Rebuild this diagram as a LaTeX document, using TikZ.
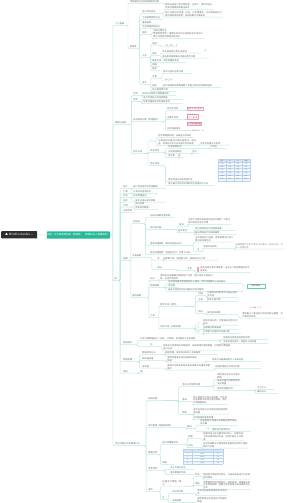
\documentclass[tikz,border=0pt]{standalone}
\usepackage{fontspec}
\newfontfamily\cjk{Noto Sans CJK SC}
\newfontfamily\djv{DejaVu Sans}
\XeTeXlinebreaklocale "zh"
\XeTeXlinebreakskip=0pt plus 0.5pt
\definecolor{ln}{HTML}{BDE9DF}
\definecolor{txt}{HTML}{6A6A6A}
\definecolor{rootc}{HTML}{2E2E2E}
\definecolor{grc}{HTML}{27B899}
\definecolor{pinkc}{HTML}{F2A2B4}
\definecolor{pinkf}{HTML}{FFF4F6}
\definecolor{tbl}{HTML}{B9D4EE}
\definecolor{tbh}{HTML}{D3E5F6}
\definecolor{tbr}{HTML}{EEF5FC}
\tikzset{
 tx/.style={anchor=west,inner xsep=0.2pt,inner ysep=0.45pt,align=left,font=\cjk\fontsize{2.2}{2.75}\selectfont,text=txt},
 cn/.style={draw=ln,line width=0.45pt,rounded corners=1.2pt},
 fm/.style={anchor=west,inner sep=0.3pt,font=\djv\fontsize{2.1}{2.6}\selectfont,text=txt},
 pinkbox/.style={anchor=west,draw=pinkc,line width=0.4pt,fill=pinkf,inner sep=0.5pt,font=\djv\fontsize{2.1}{2.6}\selectfont,text=txt,align=left},
 tealbox/.style={draw=grc!70,line width=0.4pt,fill=white,inner sep=0.4pt,minimum width=18pt,minimum height=4pt,font=\cjk\fontsize{2.2}{2.6}\selectfont,text=txt},
 cellt/.style={inner sep=0pt,font=\cjk\fontsize{1.5}{1.6}\selectfont,text=txt},
 rootn/.style={fill=rootc,text=white,minimum width=36pt,minimum height=7.3pt,inner sep=0pt,rounded corners=0.8pt,font=\cjk\fontsize{3}{3.4}\selectfont},
 grn/.style={fill=grc,text=white,minimum width=63.3pt,minimum height=7.3pt,inner sep=0pt,rounded corners=0.8pt,font=\cjk\fontsize{2.4}{3}\selectfont}
}
\newcommand\nd[7]{\node[tx,text width=#6pt] (#1) at (#4,#5) {#7};\draw[cn] (#2.south east) -- ++(#3,0) |- (#1.south west) -- (#1.south east);}
\begin{document}
\begin{tikzpicture}[x=1pt,y=-1pt]
\useasboundingbox (0,0) rectangle (300,503);
% root and main branch
\node[rootn] (root) at (19.2,234.7) {▲ MindGo Guides —};
\node[grn] (green) at (78.4,235) {说明：中文版使用指南（基础版）（策略开发 \& 数据研究）};
\draw[cn] (root.east) -- (green.west);
% level 1
\node[tx,text width=9pt] (A) at (115,24) {入门基础};
\node[tx,text width=13pt] (B) at (115,123) {数据与指标};
\node[tx,text width=3.5pt] (C) at (114.2,279) {库};
\node[tx,text width=28pt] (D) at (115,444) {常见问题与注意事项汇总};
\foreach \n in {A,B,C,D} \draw[cn] (green.east) -- ++(2.7,0) |- (\n.south west) -- (\n.south east);
% ===== A =====
\nd{A1}{A}{3.2}{130}{1.6}{35}{策略编写与回测框架使用说明}
\nd{A2}{A}{3.2}{129.5}{46.8}{8}{函数库}
\nd{A2a}{A2}{1.4}{142}{12}{18}{账户持仓信息}
\nd{A2a1}{A2a}{3}{165}{6.5}{47}{获取当前账户的可用资金、总资产、持仓市值以及每只股票的数量与成本}
\nd{A2a2}{A2a}{3}{165}{14}{57}{账户对象包含资金、持仓、订单等属性，可在策略运行过程中随时调用查询，返回结果为字典格式}
\nd{A2b}{A2}{1.4}{142}{18}{20}{下单函数使用方法}
\nd{A2c}{A2}{1.4}{142}{22.5}{15}{撤单函数}
\nd{A2d}{A2}{1.4}{142}{27}{23}{历史数据获取接口}
\nd{A2e}{A2}{1.4}{142}{33}{6}{指标}
\nd{A2e1}{A2e}{3}{153}{30.5}{15}{均线计算方法}
\nd{A2e2}{A2e}{3}{153}{35.5}{50}{简单移动平均、指数移动平均与加权移动平均的计算方式及其在策略中的应用}
\nd{A2f}{A2}{1.4}{142}{56}{6}{公式}
\nd{A2f1}{A2f}{2}{152}{43.5}{5}{收益}
\node[fm] (F1) at (165,45.5) {P1 / P0 − 1};
\draw[cn] (A2f1.south east) -- ++(3,0) |- (F1.south west) -- (F1.south east);
\nd{A2f2}{A2f}{2}{152}{54}{6}{波动}
\nd{A2f2a}{A2f2}{2}{162}{51.5}{38}{年化波动率计算方法说明}
\node[fm] (F2) at (204,50.5) {σ²};
\nd{A2f2b}{A2f2}{2}{162}{56.5}{46}{收益率标准差乘以交易日数平方根}
\nd{A2f3}{A2f}{2}{152}{61}{33}{夏普比率：风险调整后收益}
\nd{A2f4}{A2f}{2}{152}{65}{7}{回撤}
\nd{A2f5}{A2f}{2}{152}{69}{7}{胜率}
\nd{A2g}{A2}{1.4}{142}{83}{6}{统计}
\nd{A2g1}{A2g}{2}{152}{76.5}{5}{方差}
\nd{A2g1a}{A2g1}{4}{163}{72}{28}{样本方差与总体方差}
\node[fm] (F3) at (164,79.5) {1/n ∑ x²};
\draw[cn] (A2g1.south east) -- ++(4,0) |- (F3.south west) -- (F3.south east);
\nd{A2g2}{A2g}{2}{152}{85.7}{6}{相关}
\nd{A2g2a}{A2g2}{4}{163}{85.7}{57}{皮尔逊相关系数衡量两个变量之间的线性相关程度}
\nd{A2g3}{A2g}{2}{152}{90}{23}{协方差矩阵计算}
% ===== B =====
\nd{B1}{B}{2.6}{133}{94}{5}{行情}
\nd{B1a}{B1}{3}{142}{94}{33}{日线与分钟线行情数据获取}
\nd{B2}{B}{2.6}{133}{100}{5}{财务}
\nd{B2a}{B2}{3}{143}{98}{39}{资产负债表与利润表数据}
\nd{B2b}{B2}{3}{143}{102}{39}{现金流量表及财务指标查询}
\nd{B3}{B}{2.6}{133}{120}{29}{技术指标计算（常用指标）}
\nd{B3a}{B3}{2.6}{167}{109}{16}{移动平均线}
\node[pinkbox] (P1) at (187,108.5) {MA = 1/n ∑ x²};
\draw[cn] (B3a.south east) -- (P1.west |- B3a.south east);
\nd{B3b}{B3}{2.6}{167}{118}{16}{指数平均线}
\node[pinkbox] (P2) at (187,116.5) {E = α x +\\(1 − α) E′};
\draw[cn] (B3b.south east) -- (P2.west |- B3b.south east);
\nd{B3c}{B3}{2.6}{167}{129}{16}{相对强弱指标}
\node[pinkbox,fill=pinkc!45] (P3) at (187,124) {R \ RSI {\cjk 指标值}};
\node[fm] (F4) at (187,131) {x = a/(a+b) · x²};
\draw[cn] (B3c.south east) -- (F4.west |- B3c.south east);
\nd{B4}{B}{2.6}{133}{152}{10}{因子分析}
\nd{B4a}{B4}{4.3}{150}{140}{3}{一}
\nd{B4a1}{B4a}{2.5}{158}{136}{34}{因子数据预处理：去极值与标准化}
\nd{B4a2}{B4a}{2.5}{158}{142.5}{39}{对原始因子值进行缺失值填充、去极值、标准化以及行业市值中性化处理}
\nd{B4a3}{B4a2}{2}{200}{143.5}{28}{中性化处理方法说明}
\nd{B4b}{B4}{4.3}{150}{151}{12}{因子检验}
\nd{B4b1}{B4b}{2.5}{168}{147}{25}{信息系数分析}
\nd{B4b1a}{B4b1}{16}{210}{147}{15}{IC均值}
\nd{B4b2}{B4b}{2.5}{168}{152}{17}{分组回测收益}
\nd{B4b2a}{B4b2}{6}{192}{152}{6}{多空}
\nd{B4b3}{B4b}{2.5}{168}{156}{9}{换手率}
\nd{B4b3a}{B4b3}{1}{178}{156}{5}{低}
\nd{B4c}{B4}{4.3}{150}{164}{12}{因子合成}
\nd{B4c1}{B4c}{2.5}{168}{180}{30}{等权合成与加权合成方法}
\nd{B4c2}{B4c}{2.5}{168}{184}{45}{基于最大化信息比率的因子权重优化方法}
% table 1
\fill[tbh] (218,159) rectangle (250,162.1);
\foreach \r in {2,4,6} \fill[tbr] (218,{159+\r*3.14}) rectangle (250,{159+(\r+1)*3.14});
\foreach \r in {0,...,7} \draw[tbl,line width=0.2pt] (218,{159+\r*3.14}) -- (250,{159+\r*3.14});
\foreach \c in {0,...,4} \draw[tbl,line width=0.2pt] ({218+\c*8},159) -- ({218+\c*8},181);
\foreach \r in {1,...,6} \foreach \c in {0,...,3} \node[cellt] at ({222+\c*8},{159+(\r+0.5)*3.14}) {0.\r\c};
\foreach \c/\h in {0/因子,1/IC,2/IR,3/收益} \node[cellt] at ({222+\c*8},160.6) {\h};
% ===== C =====
\nd{C1}{C}{1.6}{123}{187}{5}{账户}
\nd{C1a}{C1}{3}{133}{187}{32}{账户信息查询与资金管理}
\nd{C2}{C}{1.6}{123}{192}{5}{订单}
\nd{C2a}{C2}{3}{133}{192}{24}{订单状态查询接口}
\nd{C3}{C}{1.6}{123}{196}{5}{持仓}
\nd{C3a}{C3}{3}{133}{196}{17}{持仓明细查询}
\nd{C4}{C}{1.6}{123}{200.5}{7}{成交}
\nd{C4a}{C4}{3}{135}{200.5}{30}{成交记录与成交回报}
\nd{C5}{C}{1.6}{123}{205.5}{7}{行情}
\nd{C5a}{C5}{3}{135}{203.5}{15}{实时快照}
\nd{C5b}{C5}{3}{135}{208}{22}{逐笔成交数据}
\nd{C6}{C}{1.6}{123}{211}{10}{证券列表}
\nd{C8}{C}{1.6}{123}{259}{5}{函数}
\nd{C8a}{C8}{2}{133}{222}{10}{初始化}
\nd{C8a1}{C8a}{1.6}{150}{216}{23}{初始化函数设置参数}
\nd{C8a2}{C8a}{1.6}{150}{228}{13}{定时运行器}
\nd{C8a2a}{C8a2}{13.6}{179}{225}{5}{每日}
\nd{C8a2a1}{C8a2a}{3.5}{188}{221.5}{42}{在每个交易日的指定时间运行函数，可用于定时调仓与信号计算}
\nd{C8a2b}{C8a2}{13.6}{178}{231}{15}{盘中定时}
\nd{C8a2b1}{C8a2b}{1.5}{195}{229}{40}{按分钟频率运行的回调函数}
\nd{C8a2b2}{C8a2b}{1.5}{195}{233}{40}{按日频率运行的回调函数}
\nd{C8a3}{C8a}{1.6}{150}{244}{41}{盘前处理函数（每日开盘前运行）}
\nd{C8a3a}{C8a3}{1.5}{195}{239}{38}{在开盘前执行选股、更新股票池以及计算当日交易信号}
\nd{C8a3b}{C8a3}{1.5}{197}{250}{4}{注}
\nd{C8a3b1}{C8a3b}{2}{203}{247}{17}{交易时间说明}
\nd{C8a3b1a}{C8a3b1}{14}{235}{246}{48}{交易时间为上午九点三十分至十一点三十分，下午一点至三点}
\nd{C8a4}{C8a}{1.6}{150}{253}{50}{盘后处理函数（收盘后运行）可用于记录}
\nd{C8b}{C8}{2}{132}{256}{15}{交易函数}
\nd{C8b1}{C8b}{4}{157}{258.5}{4}{买}
\nd{C8b1a}{C8b1}{2}{163}{258.5}{54}{按股数下单、按金额下单、按目标仓位下单}
\nd{C8b2}{C8b}{4}{157}{268}{11}{卖出}
\nd{C8b2a}{C8b2}{8}{187}{269}{6}{注意}
\fill[pinkc] (197.2,267) rectangle (199.4,272);
\nd{C8b2b}{C8b2a}{1}{200}{269.5}{50}{卖出时需注意可卖数量，当日买入的股票需次日才能卖出}
\nd{C8c}{C8}{2}{132}{296}{15}{其他函数}
\nd{C8c1}{C8c}{1.1}{150}{279}{5}{日志}
\nd{C8c1a}{C8c1}{3}{160}{277.5}{53}{使用日志函数输出策略运行信息，便于调试与排查问题，支持不同级别}
\nd{C8c2}{C8c}{1.1}{150}{286}{12}{绘图函数}
\nd{C8c2a}{C8c2}{3}{168}{282}{65}{在回测结果页面绘制自定义曲线，例如净值曲线与指标曲线}
\nd{C8c2b}{C8c2}{3}{168}{286}{9}{折线图}
\nd{C8c2c}{C8c2}{3}{168}{290}{49}{最多可同时绘制五条曲线并显示图例}
\node[tealbox] (TB) at (256,286) {图表输出};
\coordinate (rb) at (243,286);
\draw[cn] (C8c2a.south east) -| (rb) -- (TB.west);
\draw[cn] (C8c2c.south east) -| (rb);
\nd{C8c3}{C8c}{1.1}{150}{316}{7}{工具}
\nd{C8c3a}{C8c3}{1.1}{160}{305}{23}{数学工具（常用）}
\nd{C8c3a1}{C8c3a}{11.6}{198}{294}{5}{均值}
\nd{C8c3a1a}{C8c3a1}{3}{207}{294.5}{30}{计算序列的算术平均值与加权平均值}
\nd{C8c3a2}{C8c3a}{11.6}{198}{300}{5}{方差}
\nd{C8c3a2a}{C8c3a2}{3}{207}{300}{30}{样本方差计算}
\nd{C8c3a3}{C8c3a}{11.6}{198}{312}{5}{回归}
\nd{C8c3a3a}{C8c3a3}{3}{207}{313}{23}{线性回归系数}
\node[fm] (F5) at (249,307.5) {y = βx + α};
\nd{C8c3a3b}{C8c3a3a}{8}{242}{315}{41}{使用最小二乘法估计回归系数与截距，并计算拟合优度}
\nd{C8c3b}{C8c3}{1.1}{160}{327}{33}{时间工具（日期处理）}
\nd{C8c3b1}{C8c3b}{1.6}{197}{323}{4}{一}
\nd{C8c3b1a}{C8c3b1}{2}{203}{322}{35}{获取交易日历，判断某日是否为交易日}
\nd{C8c3b2}{C8c3b}{1.6}{197}{328}{4}{二}
\nd{C8c3b2a}{C8c3b2}{2}{203}{328}{34}{日期格式转换函数}
\nd{C8c3b3}{C8c3b}{1.6}{197}{332}{4}{三}
\nd{C8c3b3a}{C8c3b3}{2}{203}{332}{37}{计算两个日期间的交易日数}
\nd{C10}{C}{1.6}{123}{343}{12}{数据接口}
\nd{C10a}{C10}{2}{140}{339}{77}{历史行情数据接口（日线、分钟线）支持复权与字段选择}
\nd{C10a1}{C10a}{2.6}{223}{338}{44}{前复权与后复权的区别说明}
\nd{C10a2}{C10a}{2.6}{223}{342}{44}{字段包括开盘价、收盘价与成交量}
\nd{C10b}{C10}{2}{150}{345}{6}{注}
\nd{C10b1}{C10b}{5}{163}{347}{67}{获取多只股票的历史数据时，返回结果为面板数据，可转换为数据框进行分析}
\nd{C11}{C}{1.6}{123}{360}{12}{数据处理}
\nd{C11a}{C11}{3.6}{142}{353}{21}{数据清洗方法}
\nd{C11a1}{C11a}{1.5}{165}{353}{52}{剔除停牌、涨跌停以及新上市的股票}
\nd{C11b}{C11}{3.6}{142}{359}{18}{缺失值处理}
\nd{C11b1}{C11b}{5}{167}{359}{30}{使用前值填充或均值填充缺失数据}
\nd{C11b2}{C11b1}{8}{212}{360}{48}{填充方法需要避免引入未来信息}
\nd{C11c}{C11}{3.6}{142}{366.5}{15}{异常值}
\nd{C11c1}{C11c}{8}{167}{367}{43}{使用中位数去极值法或标准差法处理异常数据点}
\nd{C11c2}{C11c1}{4}{215}{367}{45}{处理后再进行标准化计算}
\nd{C12}{C}{1.6}{123}{371.5}{10}{其他}
\nd{C12a}{C12}{5}{140}{371.5}{4}{略}
% ===== D =====
\nd{D1}{D}{2.3}{148}{399}{15}{回测设置}
\nd{D1a}{D1}{14.6}{182}{385}{21}{滑点与手续费设置}
\nd{D1a1}{D1a}{9.6}{217}{376.5}{23}{固定滑点与百分比滑点两种}
\nd{D1a2}{D1a}{9.6}{217}{382}{23}{按成交量比例限制单笔成交数量}
\nd{D1a3}{D1a}{9.6}{217}{389}{30}{按成交金额比例}
\nd{D1a3a}{D1a3}{7.6}{257}{388}{16}{万分之三}
\nd{D1a3b}{D1a3}{7.6}{257}{392}{20}{最低五元}
\nd{D1b}{D1}{14.6}{182}{400}{5}{基准}
\nd{D1b1}{D1b}{6}{193}{400}{34}{默认基准为沪深三百指数，可在初始化函数中修改为其他指数，用于计算超额收益}
\nd{D1c}{D1}{14.6}{182}{413}{5}{频率}
\nd{D1c1}{D1c}{6}{193}{411}{35}{支持日级别与分钟级别两种回测频率设置}
\nd{D1c2}{D1c}{6}{193}{418}{40}{分钟级回测速度较慢}
\nd{D2}{D}{2.3}{148}{426}{30}{常见报错（数据缺失等）}
\nd{D2a}{D2}{8}{187}{427}{5}{解决}
\nd{D2a1}{D2a}{3}{200}{422.5}{37}{检查股票代码格式与数据日期范围是否正确}
\node[fm] (F6) at (206,428.5) {√x};
\nd{D2a2}{D2a}{3}{212}{430}{38}{重新运行回测即可}
\nd{D3}{D}{2.3}{148}{453}{10}{策略示例}
\nd{D3a}{D3}{1.6}{162}{443}{21}{双均线策略示例}
\nd{D3a1}{D3a}{3.6}{188}{437}{5}{思路}
\nd{D3a1a}{D3a1}{8}{203}{436.5}{40}{短期均线上穿长期均线时买入，短期均线下穿长期均线时卖出，持仓不超过十只股票}
\nd{D3a2}{D3a}{3.6}{188}{446}{5}{代码}
\nd{D3a2a}{D3a2}{8}{203}{445}{44}{在定时函数中计算均线并根据信号调用下单函数执行交易}
\nd{D3b}{D3}{1.6}{162}{463}{11}{结果}
% table 2
\fill[tbh] (183,449) rectangle (223,452);
\foreach \r in {2,4} \fill[tbr] (183,{449+\r*3}) rectangle (223,{449+(\r+1)*3});
\foreach \r in {0,...,5} \draw[tbl,line width=0.2pt] (183,{449+\r*3}) -- (223,{449+\r*3});
\foreach \x in {183,192,213,223} \draw[tbl,line width=0.2pt] (\x,449) -- (\x,464);
\foreach \r in {1,...,4} {\node[cellt] at (187.5,{449+(\r+0.5)*3}) {\r}; \node[cellt] at (202.5,{449+(\r+0.5)*3}) {0.0\r5}; \node[cellt] at (218,{449+(\r+0.5)*3}) {1.\r};}
% more D
\nd{D4}{D}{2.3}{148}{469}{14}{参考资料}
\nd{D4a}{D4}{2.6}{170}{468}{23}{官方文档与社区}
\nd{D4b}{D4}{2.6}{170}{473}{23}{量化策略示例库}
\nd{D5}{D}{2.3}{148}{490}{10}{进阶}
\nd{D5a}{D5}{1.6}{162}{483}{21}{机器学习策略（简介）}
\nd{D5a1}{D5a}{9.6}{195}{475}{5}{特征}
\nd{D5a1a}{D5a1}{3}{203}{476}{47}{使用因子数据作为特征，对未来收益进行分类或回归预测}
\nd{D5a2}{D5a}{9.6}{195}{484}{5}{模型}
\nd{D5a2a}{D5a2}{3}{203}{485}{47}{常用模型包括线性回归、随机森林、梯度提升树以及神经网络，需要注意训练集与测试集的划分方式}
\nd{D5b}{D5}{1.6}{162}{498}{4}{注}
\nd{D5b1}{D5b}{1.6}{172}{492}{18}{过拟合风险}
\nd{D5b1a}{D5b1}{5}{197}{492.5}{30}{参数过多容易导致样本内过拟合}
\nd{D5b2}{D5b}{1.6}{172}{501}{18}{未来函数}
\nd{D5b2a}{D5b2}{5}{197}{500.5}{30}{避免使用当日收盘后才知道的数据}
\end{tikzpicture}
\end{document}
